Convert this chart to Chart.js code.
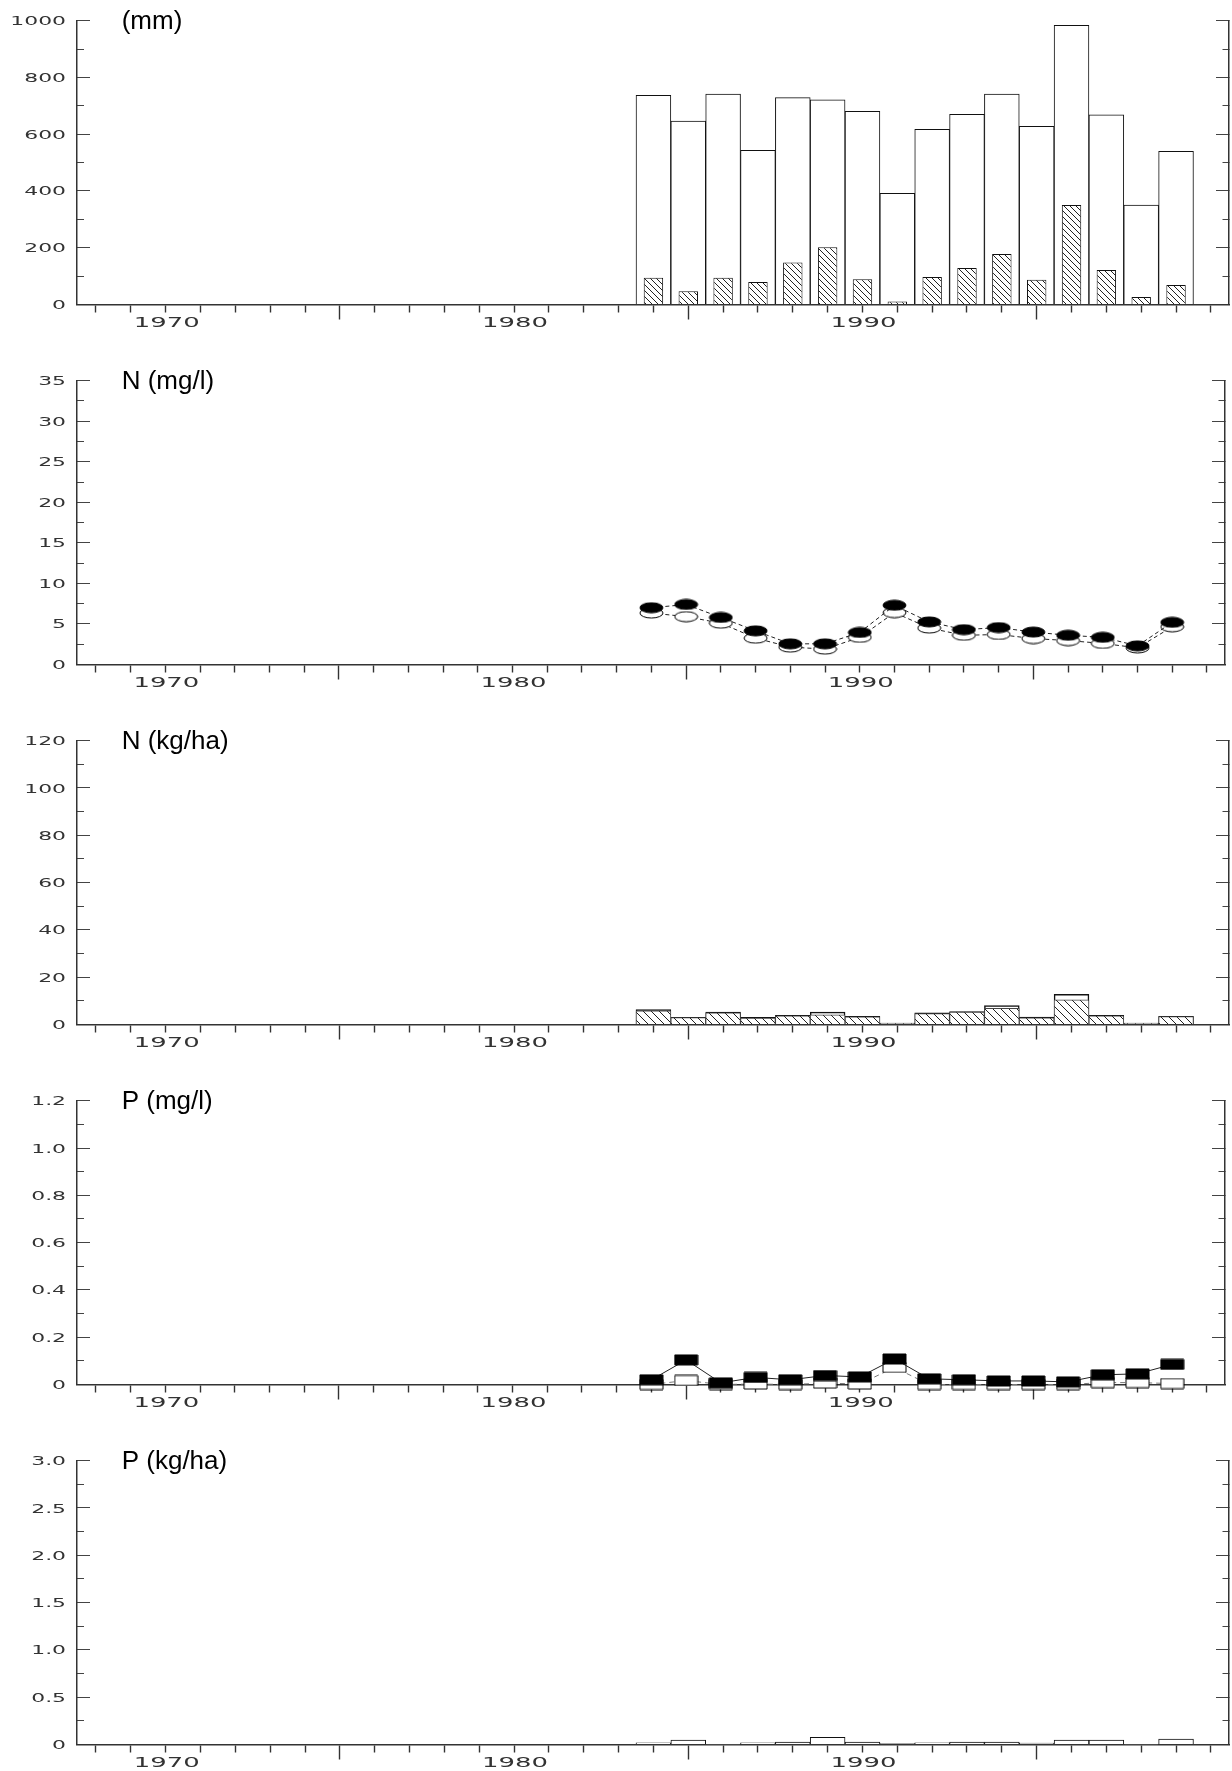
<!DOCTYPE html>
<html>
<head>
<meta charset="utf-8">
<script src="https://cdn.jsdelivr.net/npm/chart.js@4.4.0/dist/chart.umd.min.js"></script>
<style>
html,body{margin:0;padding:0;background:#fff;overflow:hidden;width:1232px;height:1771px;position:relative;}
canvas.panel{position:absolute;left:0;width:1232px;height:360px;}
</style>
</head>
<body>
<canvas id="p0" class="panel" width="1232" height="360" style="top:0px"></canvas>
<canvas id="p1" class="panel" width="1232" height="360" style="top:360px"></canvas>
<canvas id="p2" class="panel" width="1232" height="360" style="top:720px"></canvas>
<canvas id="p3" class="panel" width="1232" height="360" style="top:1080px"></canvas>
<canvas id="p4" class="panel" width="1232" height="360" style="top:1440px"></canvas>
<script>
// ---------------- data ----------------
const years = [1984,1985,1986,1987,1988,1989,1990,1991,1992,1993,1994,1995,1996,1997,1998,1999];

// panel 1 (mm)
const precipitation = [737,646,741,543,729,721,681,392,617,670,741,628,984,668,350,540];
const runoff        = [94,47,94,79,148,202,89,11,97,129,178,87,351,122,26,69];

// panel 2 N (mg/l)
const nConcFilled = [7.0,7.4,5.8,4.15,2.55,2.55,3.95,7.3,5.25,4.3,4.55,4.0,3.6,3.35,2.3,5.2];
const nConcOpen   = [6.35,5.9,5.1,3.25,2.15,1.9,3.35,6.4,4.5,3.6,3.7,3.2,2.95,2.6,2.05,4.65];

// panel 3 N (kg/ha)
const nLoadOutline = [6.3,3.0,5.2,3.0,3.9,5.2,3.5,0.6,4.9,5.5,8.0,3.1,12.8,3.9,0.6,3.5];
const nLoadHatched = [5.8,2.9,4.9,2.7,3.7,4.1,3.2,0.4,4.6,5.2,6.8,2.8,10.4,3.7,0.4,3.4];

// panel 4 P (mg/l)
const pConcFilled = [0.020,0.104,0.007,0.030,0.020,0.038,0.032,0.108,0.024,0.020,0.015,0.015,0.011,0.041,0.045,0.085];
const pConcOpen   = [0.0,0.017,0.0,0.002,0.0,0.006,0.002,0.072,0.0,0.0,0.0,0.0,0.0,0.008,0.008,0.004];

// panel 5 P (kg/ha)
const pLoad = [0.018,0.046,0.004,0.018,0.025,0.077,0.025,0.011,0.018,0.025,0.025,0.014,0.046,0.046,0.004,0.056];

// tick labels
const xTickLabels = ['1970','1980','1990'];
const yLabelsMm   = ['0','200','400','600','800','1000'];
const yLabelsNmg  = ['0','5','10','15','20','25','30','35'];
const yLabelsNkg  = ['0','20','40','60','80','100','120'];
const yLabelsPmg  = ['0','0.2','0.4','0.6','0.8','1.0','1.2'];
const yLabelsPkg  = ['0','0.5','1.0','1.5','2.0','2.5','3.0'];
const panelTitles = ['(mm)','N (mg/l)','N (kg/ha)','P (mg/l)','P (kg/ha)'];

const X_MIN = 1967.455, X_MAX = 2000.52;

// ---------------- helpers ----------------
function pts(vals){ return years.map((yr,i)=>({x:yr, y:vals[i]})); }

function hatch(sp){
  const c=document.createElement('canvas'); c.width=sp; c.height=sp;
  const g=c.getContext('2d');
  g.fillStyle='#fff'; g.fillRect(0,0,sp,sp);
  g.strokeStyle='#222'; g.lineWidth=1;
  g.beginPath();
  g.moveTo(0,0); g.lineTo(sp,sp);
  g.moveTo(-2,sp-2); g.lineTo(2,sp+2);
  g.moveTo(sp-2,-2); g.lineTo(sp+2,2);
  g.stroke();
  return g.createPattern(c,'repeat');
}

function marker(shape, filled, w, h){
  const c=document.createElement('canvas'); c.width=w+2; c.height=h+2;
  const g=c.getContext('2d');
  g.beginPath();
  if(shape==='ellipse') g.ellipse((w+2)/2,(h+2)/2,w/2,h/2,0,0,Math.PI*2);
  else g.rect(1,1,w,h);
  g.fillStyle = filled ? '#000' : '#fff';
  g.fill();
  g.strokeStyle='#000'; g.lineWidth=1; g.stroke();
  return c;
}

function yScale(max, step, position){
  return {
    type:'linear', position, min:0, max, display:true,
    ticks:{display:false, stepSize:step, autoSkip:false},
    border:{display:true, color:'#333', width:1.5},
    grid:{display:true, drawOnChartArea:false, drawTicks:true, tickLength:-13, tickWidth:1, tickColor:'#444',
      tickBorderDash: c => (c.index % 2 === 0) ? [] : (position==='left' ? [0,6,8,0] : [7,30])},
    afterFit: s => { s.width = position==='left' ? 77 : 3; }
  };
}

function xScale(){
  return {
    type:'linear', position:'bottom', min:X_MIN, max:X_MAX, offset:false, display:true,
    ticks:{display:false, stepSize:1, includeBounds:false, autoSkip:false},
    border:{display:true, color:'#333', width:1.5},
    grid:{display:true, offset:false, drawOnChartArea:false, drawTicks:true, tickLength:15, tickWidth:1.4, tickColor:'#333',
      tickBorderDash: c => (c.tick && Math.round(c.tick.value) % 10 === 5) ? [] : [7,30]},
    afterFit: s => { s.height = 55.5; }
  };
}

const deco = {
  id:'deco',
  afterDraw(chart, args, opts){
    const ctx=chart.ctx, ca=chart.chartArea, xs=chart.scales.x, ys=chart.scales.y;
    ctx.save();
    ctx.fillStyle='#000';
    ctx.font='26px "Liberation Sans", Arial, sans-serif';
    ctx.textAlign='left'; ctx.textBaseline='alphabetic';
    ctx.fillText(opts.title, ca.left+44.7, ca.top+8.5);
    ctx.fillStyle='#333';
    ctx.font='12.5px "DejaVu Sans"';
    ctx.textAlign='right';
    for(const lab of opts.yLabels){
      const py=ys.getPixelForValue(parseFloat(lab));
      ctx.save(); ctx.translate(ca.left-11, py+4.5); ctx.scale(1.75,1); ctx.fillText(lab,0,0); ctx.restore();
    }
    ctx.font='14px "DejaVu Sans"';
    ctx.textAlign='center';
    for(const lab of opts.xLabels){
      const px=xs.getPixelForValue(parseFloat(lab));
      ctx.save(); ctx.translate(px+1, ca.bottom+22.2); ctx.scale(1.85,1); ctx.fillText(lab,0,0); ctx.restore();
    }
    ctx.restore();
  }
};

function makeChart(id, type, datasets, max, step, title, yLabels){
  return new Chart(document.getElementById(id), {
    type,
    data:{datasets},
    options:{
      responsive:false, animation:false, events:[], devicePixelRatio:1,
      layout:{padding:{top:20.7,left:0,right:0,bottom:0}},
      scales:{ x:xScale(), y:yScale(max,step,'left'), y2:yScale(max,step,'right') },
      plugins:{ legend:{display:false}, tooltip:{enabled:false}, title:{display:false},
        deco:{title, yLabels, xLabels:xTickLabels} }
    },
    plugins:[deco]
  });
}

// ---------------- panels ----------------
makeChart('p0','bar',[
  {data:pts(runoff), grouped:false, barPercentage:0.557, categoryPercentage:1, backgroundColor:hatch(6), borderColor:'#111', borderWidth:1, order:0},
  {data:pts(precipitation), grouped:false, barPercentage:1, categoryPercentage:1, backgroundColor:'#fff', borderColor:'#111', borderWidth:1, order:1}
],1000,100,panelTitles[0],yLabelsMm);

const ellF=marker('ellipse',true,23,10), ellO=marker('ellipse',false,23,10);
makeChart('p1','line',[
  {data:pts(nConcFilled), borderColor:'#222', borderWidth:1, borderDash:[4,3], pointStyle:ellF, pointRadius:6, order:0, clip:false},
  {data:pts(nConcOpen), borderColor:'#222', borderWidth:1, borderDash:[4,3], pointStyle:ellO, pointRadius:6, order:1, clip:false}
],35,2.5,panelTitles[1],yLabelsNmg);

makeChart('p2','bar',[
  {data:pts(nLoadHatched), grouped:false, barPercentage:1, categoryPercentage:1, backgroundColor:hatch(8), borderColor:'#444', borderWidth:1, order:0},
  {data:pts(nLoadOutline), grouped:false, barPercentage:1, categoryPercentage:1, backgroundColor:'#fff', borderColor:'#111', borderWidth:1.5, order:1}
],120,10,panelTitles[2],yLabelsNkg);

const recF=marker('rect',true,23,10), recO=marker('rect',false,23,10);
makeChart('p3','line',[
  {data:pts(pConcFilled), borderColor:'#222', borderWidth:1, pointStyle:recF, pointRadius:6, order:0, clip:false},
  {data:pts(pConcOpen), borderColor:'#777', borderWidth:1, borderDash:[5,4], pointStyle:recO, pointRadius:6, order:1, clip:false}
],1.2,0.1,panelTitles[3],yLabelsPmg);

makeChart('p4','bar',[
  {data:pts(pLoad), grouped:false, barPercentage:1, categoryPercentage:1, backgroundColor:'#fff', borderColor:'#111', borderWidth:1, order:0}
],3.0,0.25,panelTitles[4],yLabelsPkg);
</script>
</body>
</html>
